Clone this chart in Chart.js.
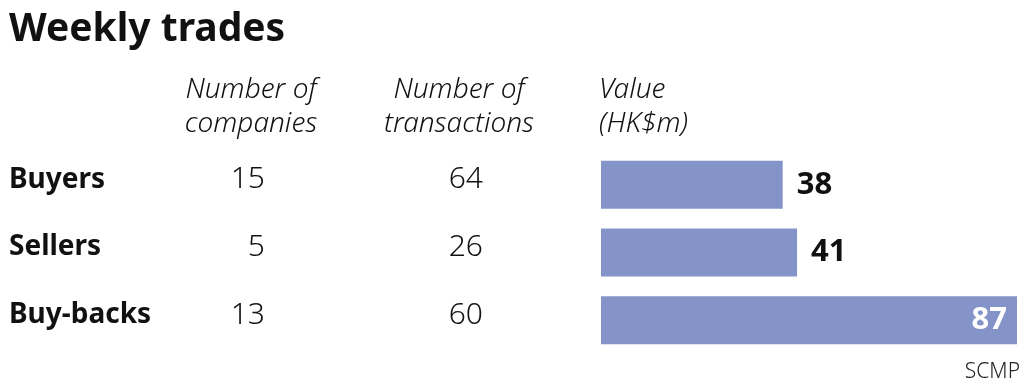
<!DOCTYPE html>
<html>
<head>
<meta charset="utf-8">
<script src="https://cdn.jsdelivr.net/npm/chart.js@4.4.1/dist/chart.umd.min.js"></script>
<style>
  html, body { margin: 0; padding: 0; background: #fff; }
  #wrap { width: 1024px; height: 387px; }
</style>
</head>
<body>
<div id="wrap"><canvas id="myChart" width="1024" height="387"></canvas></div>
<script>
'use strict';

// *Data*
const chartTitle = 'Weekly trades';
const categories = ['Buyers', 'Sellers', 'Buy-backs'];
const companies = [15, 5, 13];
const transactions = [64, 26, 60];
const values = [38, 41, 87];
const columnHeaders = [['Number of', 'companies'], ['Number of', 'transactions'], ['Value', '(HK$m)']];
const sourceText = 'SCMP';

const barColor = '#8494c8';
const fontFamily = '"Noto Sans", "Open Sans", sans-serif';

// draws the table text round the bars
const tablePlugin = {
  id: 'tableText',
  afterDraw(chart) {
    const c = chart.ctx;
    const yScale = chart.scales.y;
    const xScale = chart.scales.x;
    c.save();
    c.fillStyle = '#111';

    // title
    c.font = `bold 39px ${fontFamily}`;
    c.textAlign = 'left';
    c.textBaseline = 'alphabetic';
    c.fillText(chartTitle, 9, 41);

    // column headers
    c.font = `italic 300 28px ${fontFamily}`;
    c.textAlign = 'center';
    c.fillText(columnHeaders[0][0], 251, 98);
    c.fillText(columnHeaders[0][1], 251, 132);
    c.fillText(columnHeaders[1][0], 459, 98);
    c.fillText(columnHeaders[1][1], 459, 132);
    c.textAlign = 'left';
    c.fillText(columnHeaders[2][0], 599, 98);
    c.fillText(columnHeaders[2][1], 599, 132);

    // rows
    for (let i = 0; i < categories.length; i++) {
      let yMid = yScale.getPixelForValue(i);
      let yText = yMid - 5;

      c.fillStyle = '#111';
      c.textBaseline = 'middle';
      c.font = `bold 28px ${fontFamily}`;
      c.textAlign = 'left';
      c.fillText(categories[i], 9, yText);

      c.font = `300 30px ${fontFamily}`;
      c.textAlign = 'right';
      c.fillText(String(companies[i]), 265, yText);
      c.fillText(String(transactions[i]), 483, yText);

      // value label
      c.font = `bold 31px ${fontFamily}`;
      let xEnd = xScale.getPixelForValue(values[i]);
      if (values[i] === Math.max(...values)) {
        c.fillStyle = '#fff';
        c.textAlign = 'right';
        c.fillText(String(values[i]), xEnd - 10, yMid);
      } else {
        c.fillStyle = '#111';
        c.textAlign = 'left';
        c.fillText(String(values[i]), xEnd + 14, yMid);
      }
    }

    // source
    c.fillStyle = '#222';
    c.font = `300 21px ${fontFamily}`;
    c.textAlign = 'right';
    c.textBaseline = 'alphabetic';
    c.fillText(sourceText, 1020, 378);

    c.restore();
  }
};

const ctx = document.getElementById('myChart');

new Chart(ctx, {
  type: 'bar',
  data: {
    labels: categories,
    datasets: [{
      label: 'Value (HK$m)',
      data: values,
      backgroundColor: barColor,
      borderWidth: 0,
      categoryPercentage: 1,
      barPercentage: 0.71
    }]
  },
  options: {
    indexAxis: 'y',
    responsive: false,
    animation: false,
    layout: {
      padding: { left: 601, right: 7, top: 151, bottom: 33 }
    },
    plugins: {
      legend: { display: false },
      tooltip: { enabled: false },
      title: { display: false }
    },
    scales: {
      x: {
        display: false,
        min: 0,
        max: Math.max(...values)
      },
      y: {
        display: false
      }
    }
  },
  plugins: [tablePlugin]
});
</script>
</body>
</html>
